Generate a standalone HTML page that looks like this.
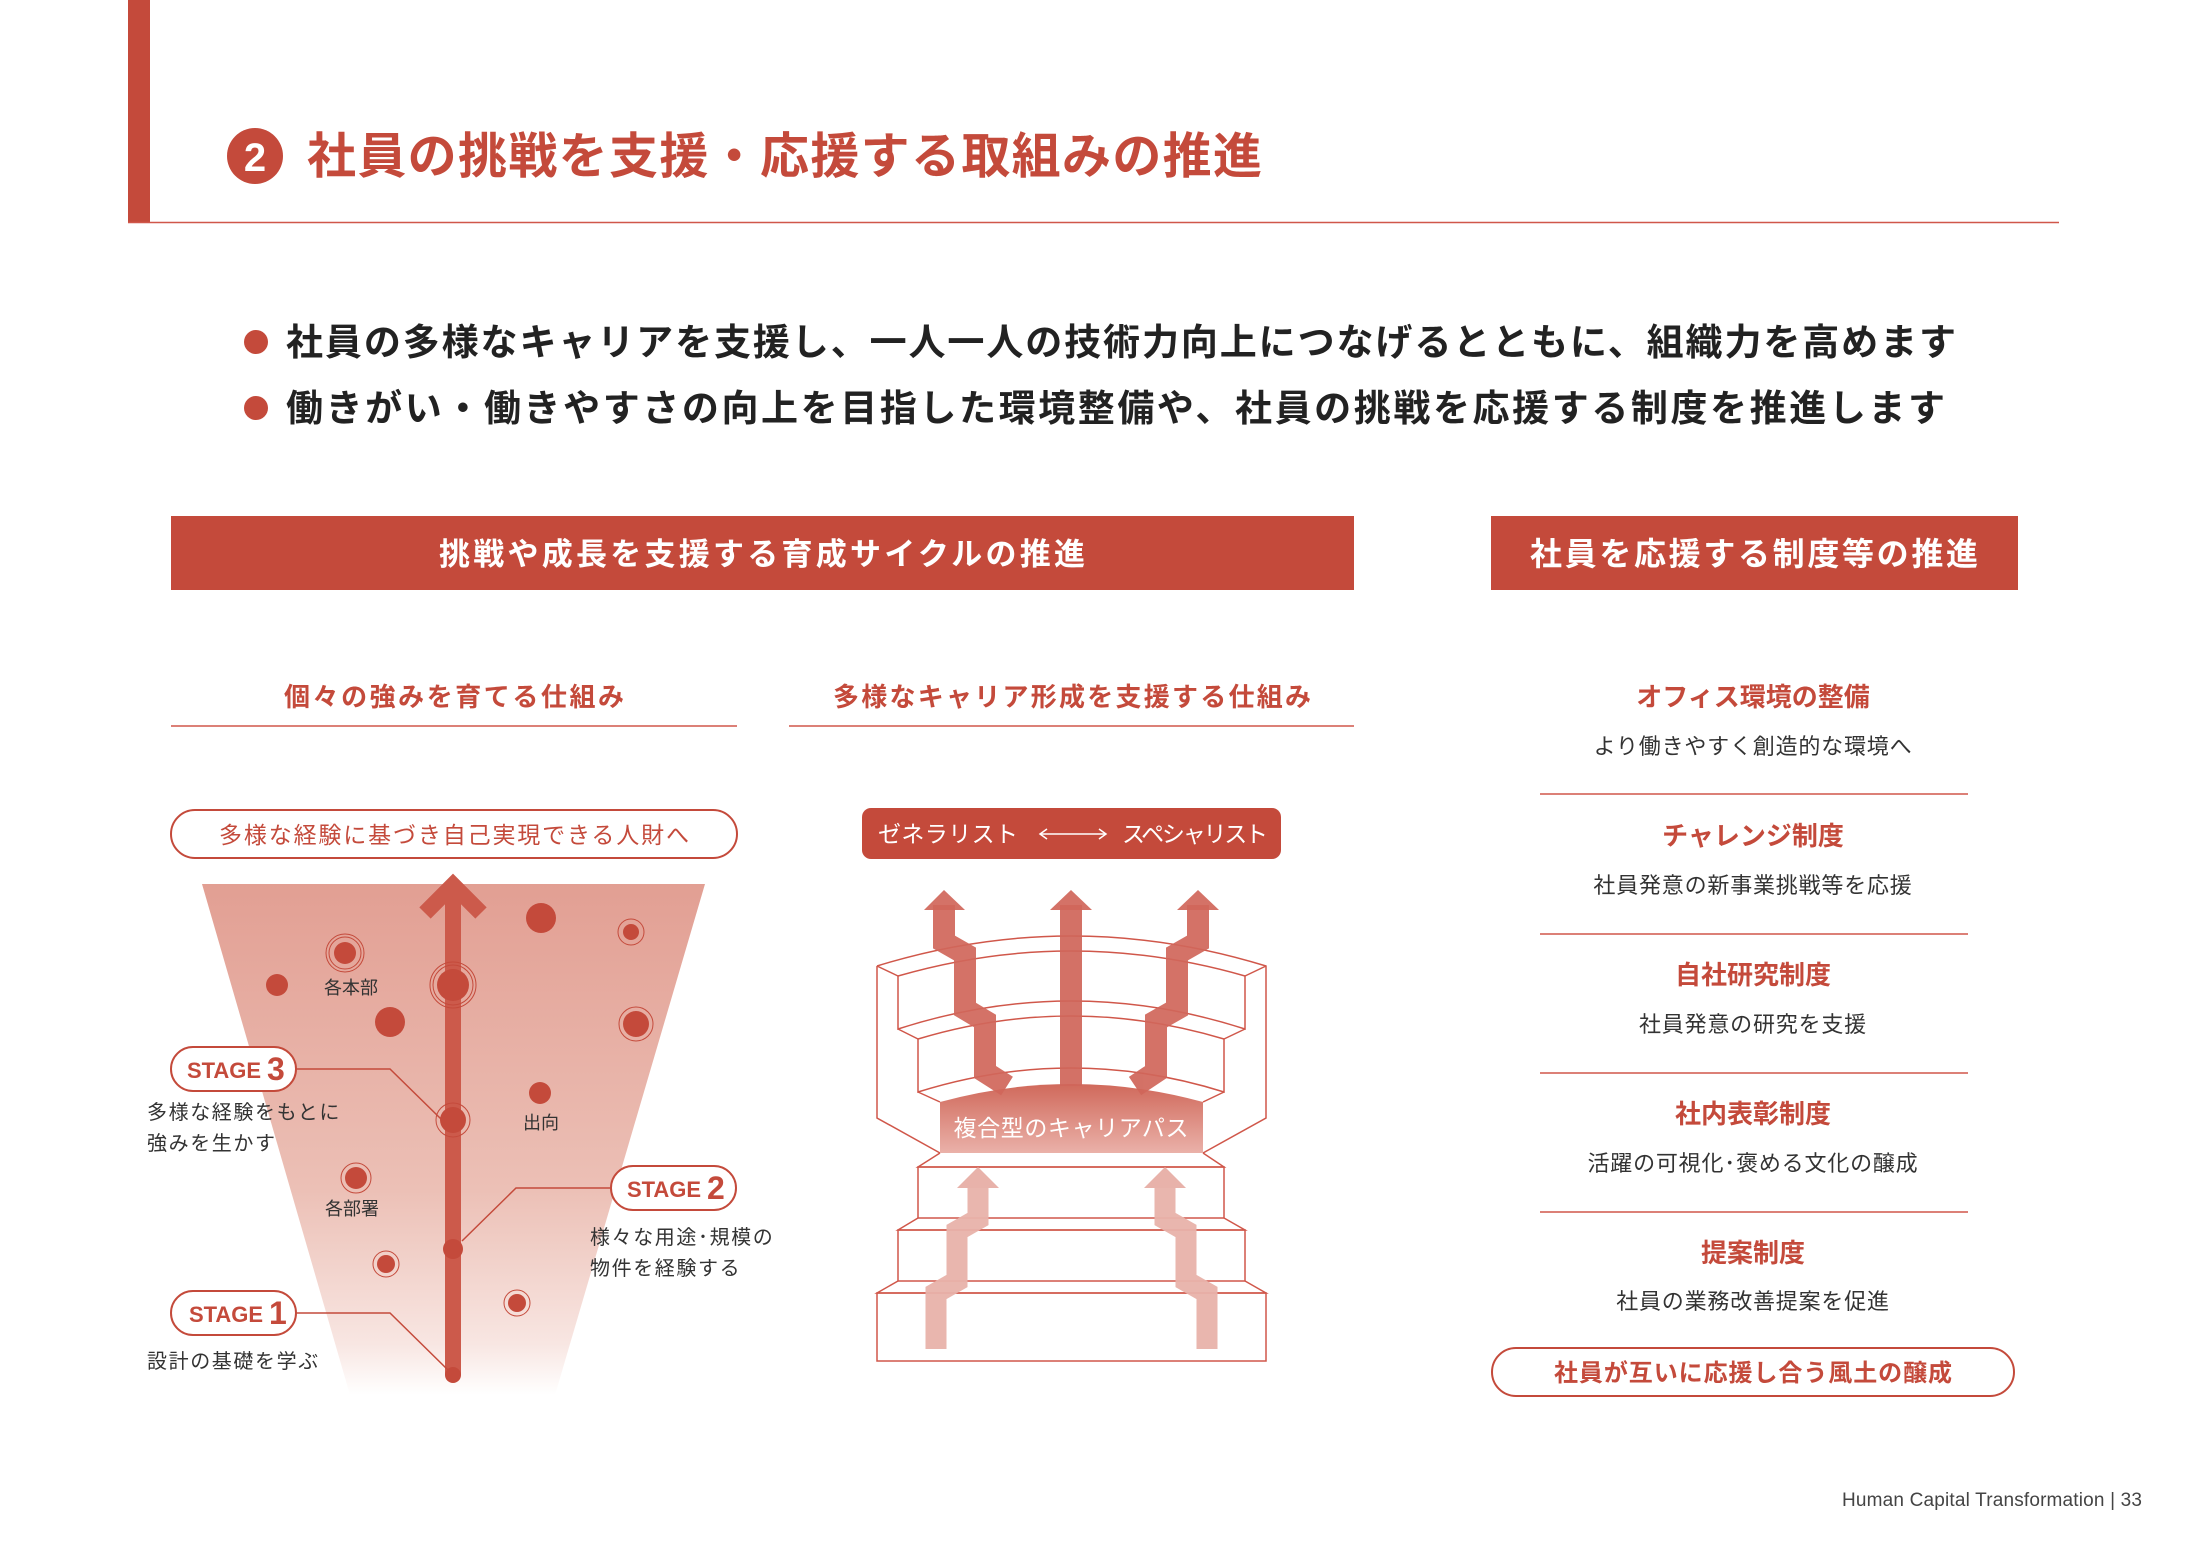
<!DOCTYPE html>
<html><head><meta charset="utf-8"><style>
html,body{margin:0;padding:0;background:#fff;}
svg{display:block;}
text{font-family:"Liberation Sans","Noto Sans CJK JP",sans-serif;}
</style></head><body>
<svg width="2186" height="1548" viewBox="0 0 2186 1548" xmlns="http://www.w3.org/2000/svg">
<defs>
<linearGradient id="fun" x1="0" y1="0" x2="0" y2="1">
<stop offset="0" stop-color="#e29f93"/><stop offset="0.6" stop-color="#ecc0b6"/><stop offset="0.9" stop-color="#f8e6e2"/><stop offset="1" stop-color="#ffffff"/>
</linearGradient>
<linearGradient id="blk" x1="0" y1="0" x2="0" y2="1">
<stop offset="0" stop-color="#d0695b"/><stop offset="1" stop-color="#eab1a9"/>
</linearGradient>
</defs>
<!-- header -->
<rect x="128" y="0" width="22" height="223" fill="#c44a3b"/>
<line x1="128" y1="222.5" x2="2059" y2="222.5" stroke="#d0574a" stroke-width="1.5"/>
<circle cx="255" cy="156" r="28" fill="#c44a3b"/>
<text x="255" y="171" font-size="40" font-weight="bold" fill="#fff" text-anchor="middle">2</text>
<text x="307" y="173" font-size="49" font-weight="bold" fill="#c44a3b" textLength="955">社員の挑戦を支援・応援する取組みの推進</text>
<!-- bullets -->
<circle cx="256" cy="342" r="12" fill="#c44a3b"/>
<circle cx="256" cy="408" r="12" fill="#c44a3b"/>
<text x="286" y="355" font-size="37" font-weight="bold" fill="#222" textLength="1670">社員の多様なキャリアを支援し、一人一人の技術力向上につなげるとともに、組織力を高めます</text>
<text x="286" y="421" font-size="37" font-weight="bold" fill="#222" textLength="1659">働きがい・働きやすさの向上を目指した環境整備や、社員の挑戦を応援する制度を推進します</text>
<!-- section headers -->
<rect x="171" y="516" width="1183" height="74" fill="#c44a3b"/>
<text x="762" y="565" font-size="31" font-weight="bold" fill="#fff" text-anchor="middle" textLength="646">挑戦や成長を支援する育成サイクルの推進</text>
<rect x="1491" y="516" width="527" height="74" fill="#c44a3b"/>
<text x="1754" y="565" font-size="32" font-weight="bold" fill="#fff" text-anchor="middle" textLength="448">社員を応援する制度等の推進</text>
<!-- sub headers -->
<text x="454" y="706" font-size="26" font-weight="bold" fill="#c44a3b" text-anchor="middle" textLength="340">個々の強みを育てる仕組み</text>
<line x1="171" y1="726" x2="737" y2="726" stroke="#d0574a" stroke-width="1.5"/>
<text x="1072" y="706" font-size="26" font-weight="bold" fill="#c44a3b" text-anchor="middle" textLength="478">多様なキャリア形成を支援する仕組み</text>
<line x1="789" y1="726" x2="1354" y2="726" stroke="#d0574a" stroke-width="1.5"/>
<!-- left diagram -->
<rect x="171" y="810" width="566" height="48" rx="24" fill="#fff" stroke="#c44a3b" stroke-width="2"/>
<text x="454" y="843" font-size="23" fill="#c44a3b" text-anchor="middle" textLength="470">多様な経験に基づき自己実現できる人財へ</text>
<polygon points="202,884 705,884 555,1395 350,1395" fill="url(#fun)"/>
<line x1="453" y1="1375" x2="453" y2="885" stroke="#cc5a4b" stroke-width="16"/>
<polyline points="425,913 453,885 481,913" fill="none" stroke="#cc5a4b" stroke-width="16"/>
<g fill="#c44a3b">
<circle cx="541" cy="918" r="15"/>
<circle cx="631" cy="932" r="8"/><circle cx="631" cy="932" r="13" fill="none" stroke="#c44a3b" stroke-width="1"/>
<circle cx="345" cy="953" r="11"/><circle cx="345" cy="953" r="16" fill="none" stroke="#c44a3b" stroke-width="1"/><circle cx="345" cy="953" r="19" fill="none" stroke="#c44a3b" stroke-width="1"/>
<circle cx="277" cy="985" r="11"/>
<circle cx="453" cy="985" r="16"/><circle cx="453" cy="985" r="20" fill="none" stroke="#c44a3b" stroke-width="1"/><circle cx="453" cy="985" r="23" fill="none" stroke="#c44a3b" stroke-width="1"/>
<circle cx="390" cy="1022" r="15"/>
<circle cx="636" cy="1024" r="13"/><circle cx="636" cy="1024" r="17" fill="none" stroke="#c44a3b" stroke-width="1"/>
<circle cx="540" cy="1093" r="11"/>
<circle cx="453" cy="1120" r="13"/><circle cx="453" cy="1120" r="17" fill="none" stroke="#c44a3b" stroke-width="1"/>
<circle cx="356" cy="1178" r="11"/><circle cx="356" cy="1178" r="15" fill="none" stroke="#c44a3b" stroke-width="1"/>
<circle cx="453" cy="1249" r="10"/>
<circle cx="386" cy="1264" r="9"/><circle cx="386" cy="1264" r="13" fill="none" stroke="#c44a3b" stroke-width="1"/>
<circle cx="517" cy="1303" r="9"/><circle cx="517" cy="1303" r="13" fill="none" stroke="#c44a3b" stroke-width="1"/>
<circle cx="453" cy="1375" r="8"/>
</g>
<g font-size="18" fill="#333" text-anchor="middle">
<text x="351" y="994">各本部</text><text x="541" y="1129">出向</text><text x="352" y="1215">各部署</text>
</g>
<g fill="none" stroke="#c44a3b" stroke-width="1.5">
<polyline points="296,1069 390,1069 441,1119"/>
<polyline points="610,1188 516,1188 462,1241"/>
<polyline points="296,1313 390,1313 448,1370"/>
</g>
<g stroke="#c44a3b" stroke-width="2" fill="#fff">
<rect x="171" y="1047" width="125" height="44" rx="22"/>
<rect x="611" y="1166" width="125" height="44" rx="22"/>
<rect x="171" y="1291" width="125" height="44" rx="22"/>
</g>
<g font-weight="bold" fill="#c44a3b">
<text x="187" y="1078" font-size="22" textLength="74">STAGE</text><text x="267" y="1080" font-size="32" font-weight="bold" fill="#c44a3b">3</text>
<text x="627" y="1197" font-size="22" textLength="74">STAGE</text><text x="707" y="1199" font-size="32" font-weight="bold" fill="#c44a3b">2</text>
<text x="189" y="1322" font-size="22" textLength="74">STAGE</text><text x="269" y="1324" font-size="32" font-weight="bold" fill="#c44a3b">1</text>
</g>
<g font-size="20" fill="#333" letter-spacing="1.6">
<text x="147" y="1119">多様な経験をもとに</text>
<text x="147" y="1150">強みを生かす</text>
<text x="590" y="1244">様々な用途･規模の</text>
<text x="590" y="1275">物件を経験する</text>
<text x="147" y="1368">設計の基礎を学ぶ</text>
</g>
<!-- right diagram -->
<rect x="862" y="808" width="419" height="51" rx="9" fill="#c44a3b"/>
<text x="878" y="842" font-size="23" fill="#fff" textLength="140">ゼネラリスト</text>
<text x="1122" y="842" font-size="23" fill="#fff" textLength="146">スペシャリスト</text>
<g stroke="#fff" stroke-width="1.5" fill="none"><line x1="1040" y1="834" x2="1106" y2="834"/><polyline points="1047,829 1040,834 1047,839"/><polyline points="1099,829 1106,834 1099,839"/></g>
<g fill="none" stroke="#d0574a" stroke-width="1.5">
<path d="M877,966 Q1071,906 1266,966 L1266,1118 L1203,1153 M877,966 L877,1118 L940,1153"/>
<path d="M898,976 Q1071,926 1245,976"/>
<line x1="877" y1="966" x2="898" y2="976"/><line x1="1266" y1="966" x2="1245" y2="976"/>
<path d="M898,976 L898,1029 Q1071,973 1245,1029 L1245,976"/>
<path d="M918,1039 Q1071,993 1224,1039"/>
<line x1="898" y1="1029" x2="918" y2="1039"/><line x1="1245" y1="1029" x2="1224" y2="1039"/>
<path d="M918,1039 L918,1092 Q1071,1044 1224,1092 L1224,1039"/>
<line x1="918" y1="1092" x2="940" y2="1102"/><line x1="1224" y1="1092" x2="1203" y2="1102"/>
<path d="M940,1153 L918,1167 L1224,1167 L1203,1153"/>
<rect x="918" y="1167" width="306" height="51"/>
<path d="M918,1218 L898,1230 L1245,1230 L1224,1218"/>
<rect x="898" y="1230" width="347" height="51"/>
<path d="M898,1281 L877,1293 L1266,1293 L1245,1281"/>
<rect x="877" y="1293" width="389" height="68"/>
</g>
<path d="M940,1102 Q1071,1066 1203,1102 L1203,1153 L940,1153 Z" fill="url(#blk)"/>
<text x="1071" y="1136" font-size="23" fill="#fff" text-anchor="middle" textLength="235">複合型のキャリアパス</text>
<g fill="none" stroke="#d0665a" stroke-width="22" opacity="0.92">
<polyline points="944,905 944,942 965,954 965,1009 985,1021 985,1072 1007,1086"/>
<polyline points="1071,905 1071,1086"/>
<polyline points="1198,905 1198,942 1177,954 1177,1009 1156,1021 1156,1072 1135,1086"/>
</g>
<g fill="#d0665a" opacity="0.92">
<polygon points="944,890 965,910 924,910"/><polygon points="1071,890 1092,910 1050,910"/><polygon points="1198,890 1219,910 1177,910"/>
</g>
<g fill="none" stroke="#e8b2aa" stroke-width="21" opacity="0.95">
<polyline points="978,1185 978,1219 957,1231 957,1281 936,1293 936,1349"/>
<polyline points="1165,1185 1165,1219 1186,1231 1186,1281 1207,1293 1207,1349"/>
</g>
<g fill="#e8b2aa"><polygon points="978,1167 999,1188 957,1188"/><polygon points="1165,1167 1186,1188 1144,1188"/></g>
<!-- right column -->
<g font-size="26" font-weight="bold" fill="#c44a3b" text-anchor="middle">
<text x="1753" y="706">オフィス環境の整備</text>
<text x="1753" y="845">チャレンジ制度</text>
<text x="1753" y="984">自社研究制度</text>
<text x="1753" y="1123">社内表彰制度</text>
<text x="1753" y="1262">提案制度</text>
</g>
<g font-size="22" fill="#333" text-anchor="middle" letter-spacing="0.8">
<text x="1753" y="754">より働きやすく創造的な環境へ</text>
<text x="1753" y="893">社員発意の新事業挑戦等を応援</text>
<text x="1753" y="1032">社員発意の研究を支援</text>
<text x="1753" y="1171">活躍の可視化･褒める文化の醸成</text>
<text x="1753" y="1309">社員の業務改善提案を促進</text>
</g>
<g stroke="#d0574a" stroke-width="1.5">
<line x1="1540" y1="794" x2="1968" y2="794"/><line x1="1540" y1="934" x2="1968" y2="934"/>
<line x1="1540" y1="1073" x2="1968" y2="1073"/><line x1="1540" y1="1212" x2="1968" y2="1212"/>
</g>
<rect x="1492" y="1348" width="522" height="48" rx="24" fill="#fff" stroke="#c44a3b" stroke-width="2"/>
<text x="1753" y="1381" font-size="24" font-weight="bold" fill="#c44a3b" text-anchor="middle" textLength="398">社員が互いに応援し合う風土の醸成</text>
<text x="1842" y="1506" font-size="19" fill="#444" textLength="300">Human Capital Transformation | 33</text>
</svg>
</body></html>
